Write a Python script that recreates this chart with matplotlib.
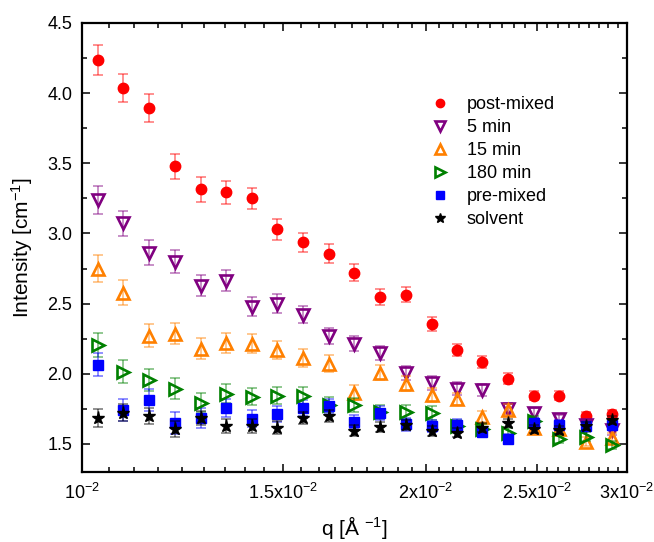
import numpy as np
import matplotlib
matplotlib.use('Agg')
import matplotlib.pyplot as plt
from matplotlib.ticker import FixedLocator, MultipleLocator, FormatStrFormatter, NullFormatter

plt.rcParams['font.family'] = ['Liberation Sans', 'DejaVu Sans']
plt.rcParams['mathtext.default'] = 'regular'

# q values [1/A]
q = [0.01033, 0.01086, 0.01145, 0.01206, 0.01271, 0.01337, 0.01409, 0.01481,
     0.01561, 0.01645, 0.01730, 0.01823, 0.01922, 0.02025, 0.02130, 0.02240,
     0.02361, 0.02488, 0.02617, 0.02763, 0.02911]

# intensity [1/cm] and error
post_mixed = [4.236, 4.036, 3.893, 3.479, 3.314, 3.293, 3.25, 3.029, 2.936, 2.857, 2.721,
              2.55, 2.564, 2.357, 2.171, 2.086, 1.964, 1.843, 1.843, 1.70, 1.714]
post_mixed_err = [0.11, 0.10, 0.10, 0.09, 0.09, 0.08, 0.075, 0.075, 0.07, 0.065, 0.062,
                  0.057, 0.054, 0.05, 0.044, 0.044, 0.04, 0.033, 0.031, 0.03, 0.026]

min5 = [3.236, 3.071, 2.864, 2.80, 2.629, 2.664, 2.479, 2.50, 2.421, 2.268, 2.214,
        2.15, 2.007, 1.936, 1.893, 1.886, 1.75, 1.721, 1.679, 1.636, 1.60]
min5_err = [0.10, 0.092, 0.087, 0.083, 0.077, 0.075, 0.07, 0.068, 0.062, 0.056, 0.055,
            0.05, 0.05, 0.05, 0.045, 0.044, 0.04, 0.036, 0.03, 0.035, 0.033]

min15 = [2.75, 2.579, 2.271, 2.286, 2.179, 2.221, 2.214, 2.171, 2.114, 2.071, 1.864,
         2.007, 1.929, 1.85, 1.821, 1.693, 1.743, 1.612, 1.607, 1.515, 1.545]
min15_err = [0.093, 0.088, 0.082, 0.077, 0.073, 0.071, 0.068, 0.063, 0.063, 0.06, 0.054,
             0.054, 0.054, 0.048, 0.044, 0.04, 0.04, 0.03, 0.033, 0.032, 0.032]

min180 = [2.207, 2.014, 1.957, 1.893, 1.793, 1.857, 1.836, 1.843, 1.843, 1.779, 1.779,
          1.729, 1.729, 1.721, 1.625, 1.604, 1.575, 1.66, 1.536, 1.55, 1.493]
min180_err = [0.087, 0.081, 0.08, 0.074, 0.069, 0.068, 0.061, 0.061, 0.06, 0.054, 0.05,
              0.05, 0.048, 0.048, 0.042, 0.036, 0.038, 0.036, 0.03, 0.032, 0.03]

pre_mixed = [2.064, 1.743, 1.814, 1.65, 1.686, 1.757, 1.679, 1.714, 1.757, 1.77, 1.657,
             1.721, 1.64, 1.625, 1.636, 1.585, 1.536, 1.65, 1.635, 1.625, 1.632]
pre_mixed_err = [0.083, 0.08, 0.08, 0.077, 0.071, 0.065, 0.062, 0.057, 0.057, 0.05, 0.05,
                 0.048, 0.045, 0.042, 0.04, 0.038, 0.036, 0.034, 0.032, 0.03, 0.03]

solvent = [1.686, 1.721, 1.70, 1.607, 1.686, 1.629, 1.629, 1.614, 1.686, 1.70, 1.593,
           1.621, 1.636, 1.593, 1.579, 1.614, 1.65, 1.607, 1.60, 1.629, 1.67]
solvent_err = [0.063, 0.06, 0.058, 0.055, 0.052, 0.05, 0.048, 0.046, 0.044, 0.042, 0.04,
               0.038, 0.036, 0.035, 0.033, 0.032, 0.03, 0.03, 0.028, 0.028, 0.027]

labels = ['post-mixed', '5 min', '15 min', '180 min', 'pre-mixed', 'solvent']
x_ticks = [0.01, 0.015, 0.02, 0.025, 0.03]
x_ticklabels = ['10$^{-2}$', '1.5x10$^{-2}$', '2x10$^{-2}$', '2.5x10$^{-2}$', '3x10$^{-2}$']

# (data, err, colour, marker, size, filled)
series = [
    (post_mixed, post_mixed_err, '#FF0000', 'o', 7.5, True),
    (min5, min5_err, '#800080', 'v', 8.5, False),
    (min15, min15_err, '#FF8000', '^', 8.5, False),
    (min180, min180_err, '#008000', '>', 8.5, False),
    (pre_mixed, pre_mixed_err, '#0000FF', 's', 6.5, True),
    (solvent, solvent_err, '#000000', '*', 9.5, True),
]
draw_order = [0, 1, 2, 4, 3, 5]

fig = plt.figure(figsize=(6.54, 5.42), dpi=100)
ax = fig.add_axes([0.1254, 0.1292, 0.8333, 0.8284])

handles = [None] * len(series)
for i in draw_order:
    y, err, c, m, ms, filled = series[i]
    ax.errorbar(q, y, yerr=err, fmt='none', ecolor=c, alpha=0.55,
                elinewidth=1.1, capsize=3.5, capthick=1.1, zorder=2 + i)
    if filled:
        h, = ax.plot(q, y, ls='none', marker=m, ms=ms, color=c, mec=c, zorder=3 + i)
    else:
        h, = ax.plot(q, y, ls='none', marker=m, ms=ms, mfc='none', mec=c, mew=1.9, zorder=3 + i)
    handles[i] = h

ax.set_xscale('log')
ax.set_xlim(0.01, 0.03)
ax.set_ylim(1.3, 4.5)

ax.xaxis.set_major_locator(FixedLocator(x_ticks))
ax.set_xticklabels(x_ticklabels)
minor = []
for a, b in zip(x_ticks[:-1], x_ticks[1:]):
    minor.extend(np.linspace(a, b, 10)[1:-1])
ax.xaxis.set_minor_locator(FixedLocator(minor))
ax.xaxis.set_minor_formatter(NullFormatter())

ax.yaxis.set_major_locator(MultipleLocator(0.5))
ax.yaxis.set_minor_locator(MultipleLocator(0.25))
ax.yaxis.set_major_formatter(FormatStrFormatter('%.1f'))

ax.tick_params(which='both', direction='in', top=True, right=True, width=1.1, labelsize=13)
ax.tick_params(which='major', length=6)
ax.tick_params(which='minor', length=3.5)
ax.tick_params(axis='y', pad=7)
ax.tick_params(axis='x', pad=8)
for s in ax.spines.values():
    s.set_linewidth(1.6)

ax.set_xlabel('q [Å $^{-1}$]', fontsize=15, labelpad=8)
ax.set_ylabel('Intensity [cm$^{-1}$]', fontsize=15, labelpad=9)

ax.legend(handles, labels, loc='upper left', bbox_to_anchor=(0.61, 0.873), frameon=False,
          fontsize=13, numpoints=1, handlelength=1.0, handletextpad=1.0, labelspacing=0.33,
          markerscale=0.8)

fig.savefig('out.png', dpi=100)
